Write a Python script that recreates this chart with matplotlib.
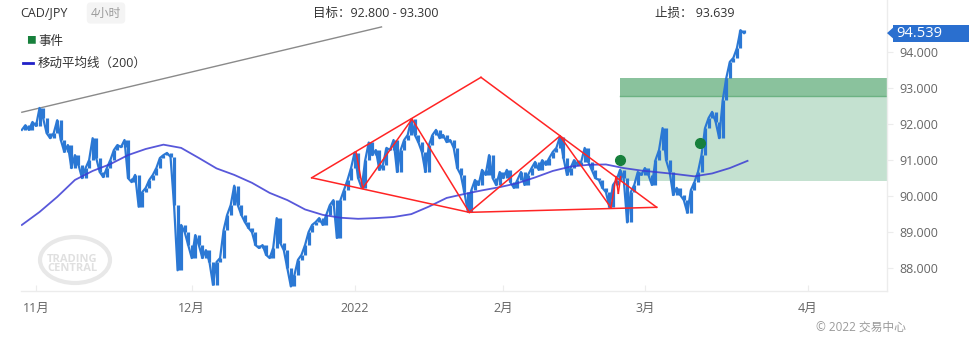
import numpy as np
import matplotlib
matplotlib.use("Agg")
from matplotlib import pyplot as plt
from matplotlib import transforms
from matplotlib.patches import Rectangle, Polygon, Ellipse

plt.rcParams["font.family"] = ["Open Sans", "Noto Sans CJK SC", "DejaVu Sans"]

symbol = "CAD/JPY"
timeframe = "4小时"
target_low, target_high = 92.800, 93.300
stop_loss = 93.639
zone_low = 90.43
last_price = 94.539

# half-day closes, first one on 28 Oct 2021 (trading-day index -2)
closes = [
    91.85, 91.98, 91.85, 92.07, 91.96, 92.46, 92.18, 91.76, 91.62, 91.76,
    92.12, 91.57, 91.24, 91.43, 90.79, 91.15, 90.88, 90.51, 90.79, 91.01,
    91.62, 91.07, 90.68, 90.54, 90.79, 91.01, 91.29, 91.43, 91.37, 91.57,
    90.51, 90.40, 90.60, 89.72, 90.12, 90.24, 90.46, 90.60, 90.79, 91.07,
    91.15, 91.21, 91.10, 89.76, 87.95, 89.21, 89.01, 88.65, 88.29, 88.93,
    88.65, 88.29, 88.51, 88.18, 87.55, 88.18, 88.29, 89.07, 89.49, 89.76,
    90.30, 89.76, 89.49, 89.29, 89.13, 89.01, 88.65, 88.57, 88.65, 88.38,
    88.29, 88.57, 89.40, 88.71, 88.51, 88.01, 87.50, 87.82, 88.24, 88.38,
    88.65, 89.01, 89.21, 89.29, 89.40, 89.21, 89.49, 89.76, 89.90, 88.85,
    89.90, 90.18, 90.46, 90.79, 91.22, 90.51, 90.24, 91.01, 91.50, 91.15,
    91.29, 90.74, 90.88, 91.35, 91.29, 91.57, 90.68, 91.29, 91.57, 91.71,
    92.14, 91.71, 91.51, 91.24, 90.68, 91.43, 91.71, 91.85, 91.62, 91.71,
    91.51, 91.57, 91.35, 90.79, 90.60, 90.12, 89.58, 90.18, 90.46, 90.32,
    90.74, 90.60, 91.15, 90.51, 90.32, 90.68, 90.51, 90.74, 90.40, 90.24,
    90.46, 90.68, 90.32, 90.60, 90.79, 90.96, 90.74, 91.01, 90.88, 91.07,
    91.24, 91.35, 91.66, 91.07, 90.60, 90.79, 91.01, 90.88, 90.96, 91.35,
    90.96, 90.74, 90.51, 90.46, 90.24, 90.12, 89.70, 90.32, 90.46, 90.74,
    90.51, 89.28, 90.12, 90.32, 90.68, 90.60, 90.79, 90.60, 90.32, 91.01,
    91.29, 91.90, 91.01, 90.68, 90.04, 90.24, 90.04, 89.90, 89.55, 90.18,
    90.40, 90.68, 91.15, 91.90, 92.18, 92.35, 92.07, 91.62, 92.68, 93.29,
    93.74, 93.85, 94.12, 94.62, 94.539,
]

# 200-period moving average, one value every 2.5 trading days from index -2
ma_200 = [
    89.21, 89.57, 89.99, 90.46, 90.71, 90.90, 91.15, 91.32, 91.44, 91.35,
    91.07, 90.78, 90.60, 90.38, 90.10, 89.90, 89.64, 89.49, 89.41, 89.38,
    89.40, 89.43, 89.51, 89.72, 89.96, 90.07, 90.17, 90.26, 90.37, 90.53,
    90.71, 90.83, 90.88, 90.89, 90.79, 90.72, 90.67, 90.62, 90.56, 90.64,
    90.79, 90.99,
]

month_ticks = [0, 22, 45, 66, 86, 109]
month_labels = ["11月", "12月", "2022", "2月", "3月", "4月"]
price_ticks = [88, 89, 90, 91, 92, 93, 94]

# long resistance line over the first half of the chart
trend_x = [-2.0, 48.8]
trend_y = [92.34, 94.71]

# chart-pattern pivots (trading-day index, price)
pivots = {
    "A": (38.94, 90.52), "B": (45.20, 91.24), "C": (46.14, 90.23),
    "D": (53.11, 92.15), "E": (62.85, 93.31), "F": (61.20, 89.56),
    "G": (74.01, 91.68), "H": (81.21, 89.69), "P": (87.67, 89.70),
    "I": (81.92, 90.55), "J": (82.25, 90.09), "K": (82.58, 90.55),
}
pattern_legs = [
    ("A", "E"), ("A", "F"), ("E", "P"), ("F", "P"),
    ("B", "C"), ("C", "D"), ("D", "F"), ("F", "G"), ("G", "H"),
    ("H", "I"), ("I", "J"), ("J", "K"),
]

event_x = [82.5, 93.8]
event_y = [91.01, 91.48]
zone_start = 82.5

blue = "#2b78d4"
grid_grey = "#ececec"
text_grey = "#666666"

fig = plt.figure(figsize=(9.7, 3.4), dpi=100)
ax = fig.add_axes([21 / 970, 49 / 340, 866 / 970, 291 / 340])
ax.set_xlim(-2.12, 120.2)
ax.set_ylim(87.375, 95.458)

# target zone and entry area
ax.add_patch(Rectangle((zone_start, zone_low), 200, target_low - zone_low,
                       facecolor="#c4e1d0", edgecolor="none", zorder=1))
ax.add_patch(Rectangle((zone_start, target_low), 200, target_high - target_low,
                       facecolor="#8ac29d", edgecolor="none", zorder=1))
ax.plot([zone_start, 200], [target_low, target_low], color="#6cb283", lw=1, zorder=1)

# price bars: each bar spans the move from the previous close
closes_arr = np.array(closes)
bar_x = np.arange(len(closes)) * 0.5 - 2.0
prev = np.concatenate([[closes_arr[0]], closes_arr[:-1]])
ax.vlines(bar_x, np.minimum(prev, closes_arr), np.maximum(prev, closes_arr),
          color=blue, lw=2.3, zorder=3)
ax.plot(bar_x, closes_arr, color=blue, lw=1.6, zorder=3)

ma_x = np.arange(len(ma_200)) * 2.5 - 2.0
ax.plot(ma_x, ma_200, color="#3b3bd4", lw=1.3, alpha=0.85, zorder=4)

ax.plot(trend_x, trend_y, color="#8a8a8a", lw=1.0, zorder=2)

for a, b in pattern_legs:
    (x0, y0), (x1, y1) = pivots[a], pivots[b]
    ax.plot([x0, x1], [y0, y1], color="#ff2424", lw=1.1, zorder=5)

ax.plot(event_x, event_y, "o", color="#17803c", ms=7, zorder=6)

# axes styling
ax.yaxis.tick_right()
ax.set_yticks(price_ticks)
ax.set_yticklabels([f"{v:.3f}" for v in price_ticks])
ax.set_xticks(month_ticks)
ax.set_xticklabels(month_labels)
ax.tick_params(axis="y", length=4, color=grid_grey, pad=5, labelsize=9,
               labelcolor=text_grey)
ax.tick_params(axis="x", direction="in", length=4, color=grid_grey, pad=8,
               labelsize=9, labelcolor=text_grey)
for side in ("top", "left"):
    ax.spines[side].set_visible(False)
for side in ("bottom", "right"):
    ax.spines[side].set_color(grid_grey)
    ax.spines[side].set_linewidth(1)
ax.set_facecolor("none")

# last price tag on the right axis
tag = transforms.blended_transform_factory(fig.transFigure, ax.transData)
ax.add_patch(Rectangle((893 / 970, last_price - 0.235), 0.1, 0.47,
                       transform=tag, facecolor="#2a6fcf", edgecolor="none",
                       clip_on=False, zorder=10))
ax.add_patch(Polygon([(887 / 970, last_price), (893.5 / 970, last_price + 0.16),
                      (893.5 / 970, last_price - 0.16)], closed=True,
                     transform=tag, facecolor="#2a6fcf", edgecolor="none",
                     clip_on=False, zorder=10))
ax.text(896 / 970, last_price, f"{last_price:.3f}", transform=tag, color="white",
        fontsize=10.5, va="center", ha="left", zorder=11)

# header
fig.text(20 / 970, 1 - 13 / 340, symbol, fontsize=9, color="#333333", va="center")
fig.text(106 / 970, 1 - 13 / 340, timeframe, fontsize=8.5, color="#9a9a9a",
         va="center", ha="center",
         bbox=dict(boxstyle="round,pad=0.35", facecolor="#f4f4f4", edgecolor="none"))
fig.text(313 / 970, 1 - 13 / 340, f"目标：{target_low:.3f} - {target_high:.3f}",
         fontsize=9, color="#333333", va="center")
fig.text(655 / 970, 1 - 13 / 340, f"止损： {stop_loss:.3f}",
         fontsize=9, color="#333333", va="center")

# legend
fig.text(26 / 970, 1 - 41 / 340, "■", fontsize=7, color="#17803c", va="center")
fig.text(38 / 970, 1 - 41 / 340, "事件", fontsize=9, color="#333333", va="center")
fig.add_artist(plt.Line2D([23 / 970, 33 / 970], [1 - 63 / 340, 1 - 63 / 340],
                          color="#2020c8", lw=2))
fig.text(38 / 970, 1 - 63 / 340, "移动平均线（200）", fontsize=9, color="#333333",
         va="center")

# watermark
fig.add_artist(Ellipse((75 / 970, 1 - 260 / 340), 70 / 970, 46 / 340,
                       angle=0, facecolor="none", edgecolor="#e8e8e8", lw=3,
                       transform=fig.transFigure))
fig.text(72 / 970, 1 - 264 / 340, "TRADING\nCENTRAL", fontsize=8, fontweight="bold",
         color="#e0e0e0", ha="center", va="center", linespacing=0.85)

fig.text(861 / 970, 1 - 327 / 340, "© 2022 交易中心", fontsize=8.5,
         color="#9a9a9a", ha="center", va="center")

fig.savefig("out.png", dpi=100)
